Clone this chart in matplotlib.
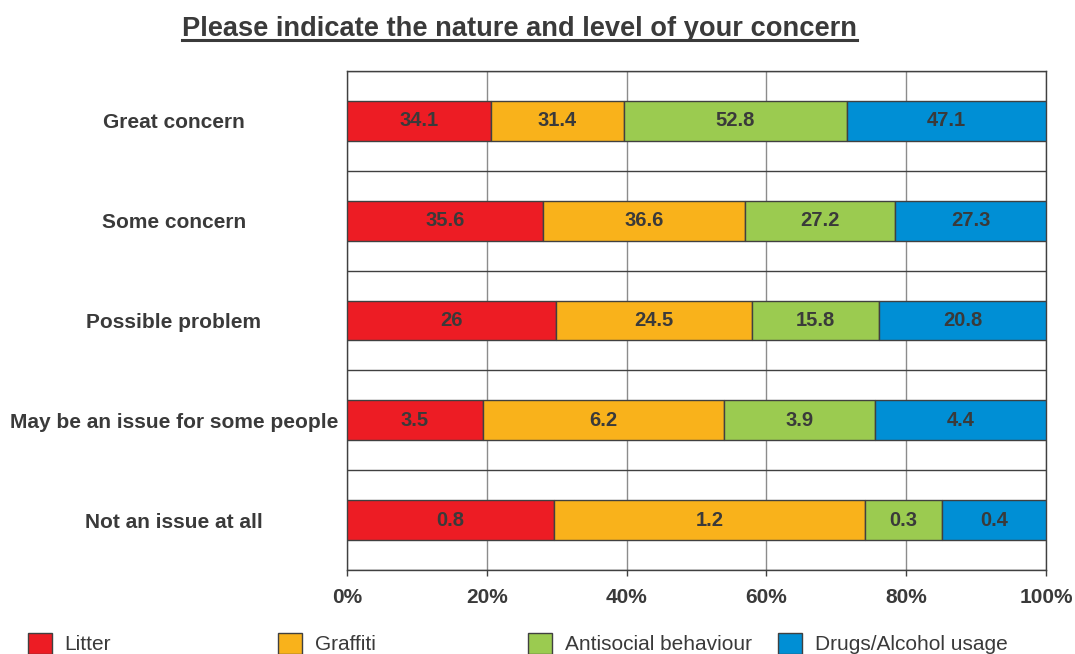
import numpy as np
import matplotlib
matplotlib.use("Agg")
import matplotlib.pyplot as plt
from matplotlib.lines import Line2D

plt.rcParams['font.family'] = ['Liberation Sans', 'DejaVu Sans']

# survey answers
categories = ['Great concern', 'Some concern', 'Possible problem',
              'May be an issue for some people', 'Not an issue at all']
series = ['Litter', 'Graffiti', 'Antisocial behaviour', 'Drugs/Alcohol usage']
litter = [34.1, 35.6, 26, 3.5, 0.8]
graffiti = [31.4, 36.6, 24.5, 6.2, 1.2]
antisocial = [52.8, 27.2, 15.8, 3.9, 0.3]
drugs = [47.1, 27.3, 20.8, 4.4, 0.4]
ticks = [0, 20, 40, 60, 80, 100]

colors = ['#ED1C24', '#F9B21B', '#9BCB50', '#008FD5']
txt_col = '#3a3a3a'
edge = '#404040'

vals = np.array([litter, graffiti, antisocial, drugs])
pct = vals / vals.sum(axis=0) * 100

fig = plt.figure(figsize=(10.75, 6.54), dpi=100)
ax = fig.add_axes([347/1075, 1-570/654, (1046-347)/1075, (570-71)/654])

y = np.arange(len(categories))
left = np.zeros(len(categories))
handles = []
for i, name in enumerate(series):
    bars = ax.barh(y, pct[i], left=left, height=0.4, color=colors[i],
                   edgecolor=edge, linewidth=1, label=name, zorder=3)
    handles.append(bars)
    for j in range(len(categories)):
        v = vals[i, j]
        ax.text(left[j] + pct[i, j] / 2, y[j], f'{v:g}', ha='center', va='center',
                fontsize=14.5, fontweight='bold', color=txt_col, zorder=4)
    left += pct[i]

ax.set_xlim(0, 100)
ax.set_ylim(len(categories) - 0.5, -0.5)
ax.set_xticks(ticks)
ax.set_xticklabels([f'{t}%' for t in ticks], fontsize=15, fontweight='bold', color=txt_col)
ax.set_yticks(y)
ax.set_yticklabels(categories, fontsize=15, fontweight='bold', color=txt_col, ha='center')
ax.set_yticks(np.arange(len(categories) + 1) - 0.5, minor=True)
ax.tick_params(axis='y', which='both', length=0, pad=124.6)
ax.tick_params(axis='x', length=4, width=1, color=edge, pad=9, direction='out')
ax.grid(axis='x', color='#8c8c8c', linewidth=1, zorder=1)
ax.grid(axis='y', which='minor', color=edge, linewidth=1, zorder=1)
ax.grid(axis='y', which='major', visible=False)
for s in ax.spines.values():
    s.set_color(edge)
    s.set_linewidth(1)

title = fig.text(519.5/1075, 1-36/654, 'Please indicate the nature and level of your concern',
                 ha='center', va='baseline', fontsize=19.6, fontweight='bold', color=txt_col)

# legend, one entry per slot so the spacing is even
for i, h in enumerate(handles):
    fig.legend(handles=[h], labels=[series[i]], loc='upper left',
               bbox_to_anchor=((11.5 + 250*i) / 1075, 1 - 616/654),
               frameon=False, fontsize=15, handlelength=1.15, handleheight=1.2,
               handletextpad=0.6, borderpad=0.3, labelcolor=txt_col)

# underline the title
fig.canvas.draw()
bb = title.get_window_extent(fig.canvas.get_renderer())
yl = 1 - 40/654
fig.add_artist(Line2D([bb.x0 / fig.bbox.width, bb.x1 / fig.bbox.width], [yl, yl],
                      color=txt_col, linewidth=2.2, transform=fig.transFigure))

fig.savefig('out.png', dpi=100)
